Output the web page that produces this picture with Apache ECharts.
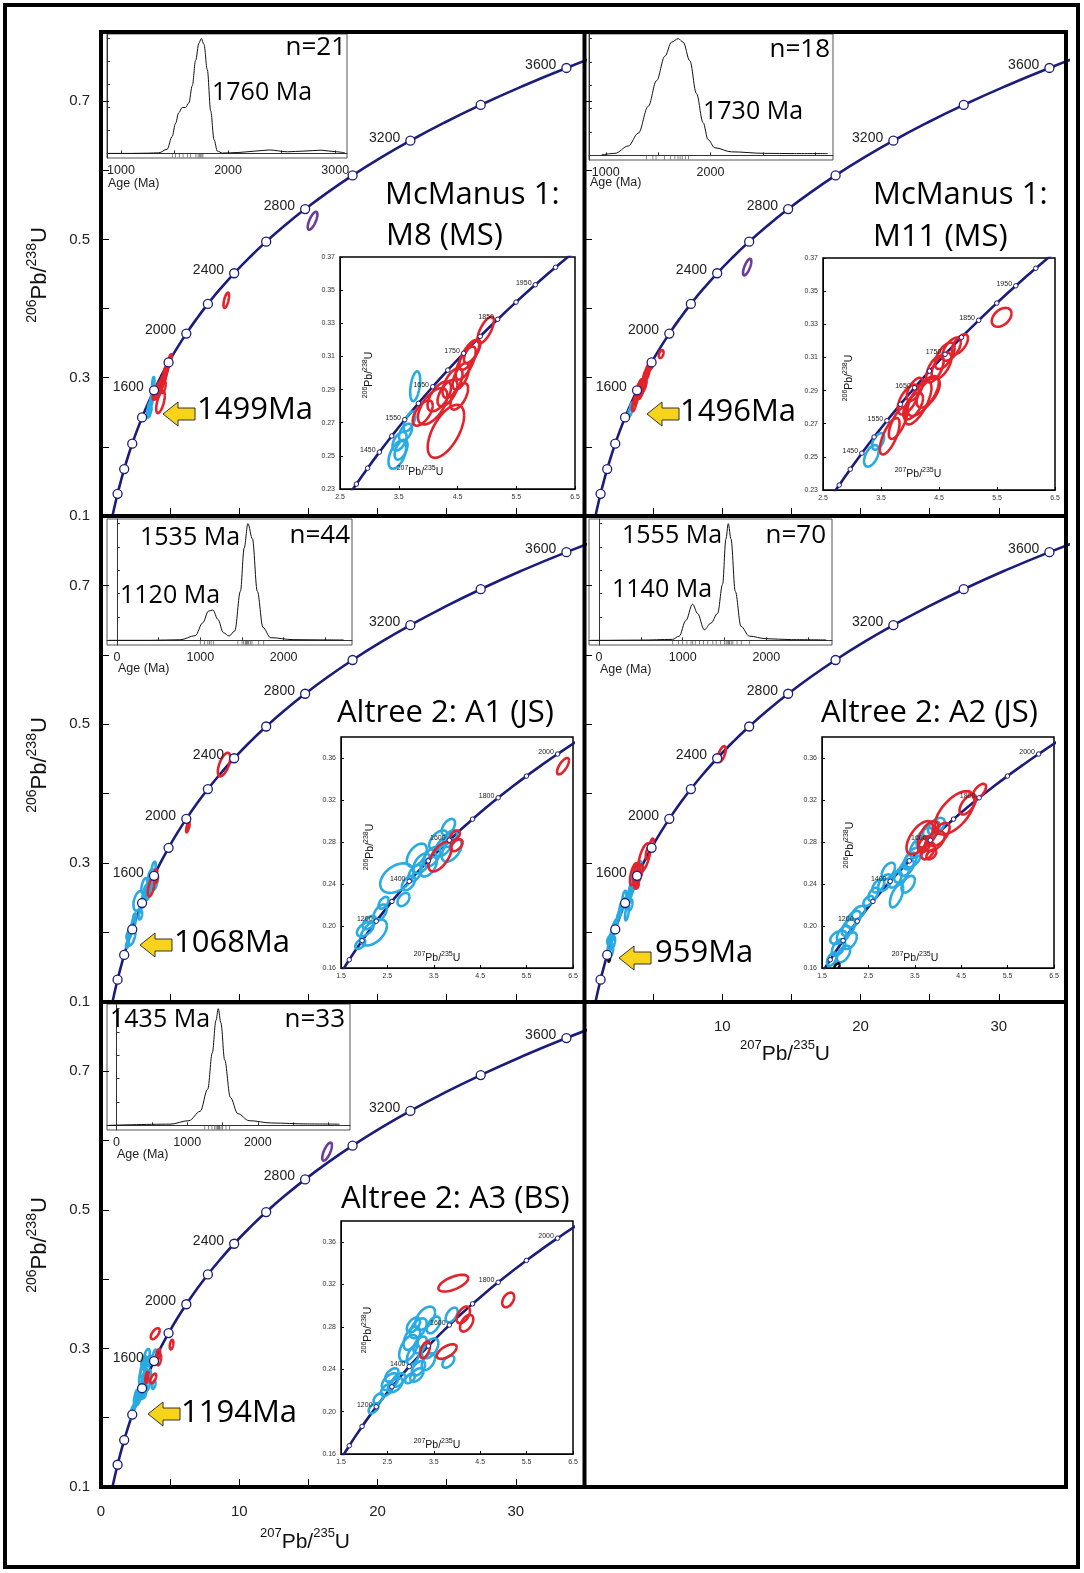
<!DOCTYPE html>
<html><head><meta charset="utf-8">
<script src="https://cdn.jsdelivr.net/npm/echarts@6/dist/echarts.min.js"></script>
<style>html,body{margin:0;padding:0;background:#fff}#c{width:1084px;height:1573px}</style>
</head><body><div id="c"></div><script>
// ---------------- DATA ----------------
const L238 = 1.55125e-4, L235 = 9.8485e-4; // decay constants per Ma
const mainCurveAges = [600,700,800,900,1000,1100,1200,1300,1400,1500,1600,1700,1800,1900,2000,2100,2200,2300,2400,2500,2600,2700,2800,2900,3000,3100,3200,3300,3400,3500,3600,3700];
const mainMarkerAges = [800,1000,1200,1400,1600,1800,2000,2200,2400,2600,2800,3000,3200,3400,3600];
const mainLabelAges = [1600,2000,2400,2800,3200,3600];
const insetCurveAges = [900,950,1000,1050,1100,1150,1200,1250,1300,1350,1400,1450,1500,1550,1600,1650,1700,1750,1800,1850,1900,1950,2000,2050,2100,2150];
const insetMarkersA = [1300,1350,1400,1450,1500,1550,1600,1650,1700,1750,1800,1850,1900,1950,2000];
const insetLabelsA = [1450,1550,1650,1750,1850,1950];
const insetMarkersB = [1000,1100,1200,1300,1400,1500,1600,1700,1800,1900,2000];
const insetLabelsB = [1200,1400,1600,1800,2000];

const mainXLabels = [0,10,20,30];
const mainXTickMarks = [5,10,15,20,25,30];
const mainYLabels = [0.1,0.3,0.5,0.7];
const mainYTickMarks = [0.2,0.3,0.4,0.5,0.6,0.7];
const insetXLabelsA = [2.5,3.5,4.5,5.5,6.5];
const insetYLabelsA = [0.23,0.25,0.27,0.29,0.31,0.33,0.35,0.37];
const insetXLabelsB = [1.5,2.5,3.5,4.5,5.5,6.5];
const insetYLabelsB = [0.16,0.20,0.24,0.28,0.32,0.36];
const insetRangeA = {x:[2.5,6.5], y:[0.23,0.37]};
const insetRangeB = {x:[1.5,6.5], y:[0.16,0.38]};

const titleLines = [['McManus 1:','M8 (MS)'],['McManus 1:','M11 (MS)'],['Altree 2: A1 (JS)'],['Altree 2: A2 (JS)'],['Altree 2: A3 (BS)']];
const sampleN = ['n=21','n=18','n=44','n=70','n=33'];
const youngestAge = ['1499Ma','1496Ma','1068Ma','959Ma','1194Ma'];
const peakLabels = [['1760 Ma'],['1730 Ma'],['1535 Ma','1120 Ma'],['1555 Ma','1140 Ma'],['1435 Ma']];

const pdpRange = [[870,3110],[840,3170],[-120,2820],[-120,2785],[-135,3305]];
const pdpLabelVals = [[1000,2000,3000],[1000,2000],[0,1000,2000],[0,1000,2000],[0,1000,2000]];
const pdpTickVals = [[1000,1500,2000,2500,3000],[1000,1500,2000,2500,3000],[0,500,1000,1500,2000,2500],[0,500,1000,1500,2000,2500],[0,500,1000,1500,2000,2500,3000]];

// probability density curves [age Ma, relative density]
const pdpM8 = [[880,0],[960,0],[1100,0],[1250,0.002],[1353,0.005],[1431,0.036],[1478,0.147],[1509,0.26],[1540,0.355],[1572,0.40],[1603,0.40],[1634,0.44],[1666,0.59],[1697,0.81],[1728,0.96],[1750,1.0],[1775,0.95],[1806,0.73],[1838,0.37],[1869,0.12],[1900,0.02],[1947,0.003],[2100,0.008],[2250,0.02],[2384,0.03],[2556,0.014],[2700,0.02],[2869,0.028],[3000,0.015],[3090,0.005]];
const pdpM11 = [[960,0.003],[1088,0.017],[1215,0.08],[1311,0.19],[1406,0.42],[1485,0.64],[1565,0.85],[1628,0.97],[1692,1.0],[1739,0.97],[1803,0.81],[1866,0.53],[1930,0.28],[1977,0.135],[2041,0.065],[2200,0.03],[2517,0.017],[2800,0.015],[3120,0.015]];
const pdpA1 = [[-100,0],[14,0],[400,0],[758,0.005],[939,0.04],[1029,0.15],[1097,0.25],[1151,0.26],[1210,0.18],[1278,0.065],[1345,0.037],[1413,0.08],[1481,0.42],[1526,0.79],[1571,1.0],[1625,0.87],[1684,0.42],[1752,0.11],[1842,0.023],[2113,0.006],[2400,0.004],[2720,0.003]];
const pdpA2 = [[-100,0],[0,0],[500,0.002],[878,0.008],[958,0.036],[1038,0.17],[1118,0.31],[1178,0.23],[1258,0.09],[1337,0.147],[1417,0.23],[1477,0.48],[1517,0.87],[1545,1.0],[1577,0.87],[1629,0.42],[1697,0.12],[1796,0.036],[1996,0.014],[2300,0.006],[2715,0.003]];
const pdpA3 = [[-110,0],[757,0.01],[1024,0.04],[1184,0.12],[1291,0.31],[1355,0.62],[1408,0.9],[1440,1.0],[1477,0.88],[1531,0.56],[1611,0.24],[1717,0.10],[1877,0.04],[2197,0.02],[2700,0.012],[3157,0.01]];
// individual ages (rug ticks)
const rugM8 = [1480,1510,1545,1580,1620,1650,1700,1720,1735,1745,1755,1765];
const rugM11 = [1390,1450,1480,1560,1620,1660,1690,1710,1730,1760,1790];
const rugA1 = [1000,1050,1090,1110,1130,1160,1450,1500,1520,1540,1550,1560,1570,1580,1600,1620,1700,1760];
const rugA2 = [880,950,1000,1050,1100,1120,1150,1200,1250,1300,1360,1400,1450,1500,1520,1540,1550,1560,1580,1600,1650,1700,1800];
const rugA3 = [1250,1300,1350,1390,1410,1430,1440,1450,1460,1480,1500,1550,1600];

// error ellipses [207Pb/235U, 206Pb/238U, half-extent x, half-extent y, rho, group(0 blue,1 red,2 purple,3 black)]
const ellM8 = [
 [3.475,0.2507,0.15,0.0085,0.5,0],[3.54,0.2537,0.11,0.006,0.5,0],[3.514,0.2588,0.12,0.0056,0.5,0],[3.615,0.2642,0.11,0.0052,0.5,0],
 [3.683,0.2708,0.10,0.006,0.6,0],[3.78,0.292,0.085,0.009,0.4,0],
 [4.303,0.2648,0.31,0.016,0.6,1],[3.908,0.2758,0.17,0.0076,0.6,1],[4.077,0.2799,0.25,0.011,0.6,1],[4.19,0.2859,0.2,0.009,0.6,1],
 [4.33,0.2879,0.17,0.008,0.6,1],[4.415,0.294,0.17,0.009,0.6,1],[4.53,0.2859,0.15,0.008,0.6,1],[4.556,0.298,0.14,0.008,0.6,1],
 [4.64,0.306,0.17,0.01,0.7,1],[4.70,0.311,0.17,0.009,0.7,1],[4.75,0.313,0.14,0.007,0.7,1],[4.98,0.326,0.14,0.008,0.7,1],
 [9.06,0.412,0.2,0.011,0.6,1],[15.3,0.527,0.35,0.013,0.7,2]];
const ellM11 = [
 [3.335,0.2506,0.127,0.0065,0.5,0],[3.45,0.2593,0.104,0.005,0.5,0],
 [3.65,0.2624,0.17,0.011,0.7,1],[3.795,0.2705,0.16,0.0097,0.7,1],[3.968,0.2846,0.18,0.009,0.6,1],[4.054,0.2806,0.17,0.008,0.6,1],
 [4.14,0.2826,0.23,0.013,0.7,1],[4.227,0.2867,0.27,0.012,0.7,1],[4.313,0.2887,0.2,0.009,0.6,1],[4.083,0.2907,0.14,0.007,0.6,1],
 [4.43,0.303,0.15,0.008,0.6,1],[4.543,0.3049,0.17,0.008,0.6,1],[4.6,0.311,0.17,0.008,0.6,1],[4.716,0.315,0.16,0.007,0.6,1],
 [4.86,0.318,0.14,0.006,0.6,1],[5.58,0.3342,0.17,0.0057,0.4,1],[11.8,0.46,0.3,0.012,0.7,2]];
const ellA1 = [
 [1.915,0.1829,0.107,0.0047,0.5,0],[2.023,0.197,0.18,0.0069,0.5,0],[2.109,0.2033,0.143,0.0063,0.5,0],[2.202,0.1939,0.287,0.0125,0.5,0],
 [2.345,0.2127,0.143,0.0078,0.5,0],[2.417,0.2221,0.107,0.0056,0.5,0],[2.703,0.2456,0.358,0.0141,0.4,0],[2.847,0.2252,0.129,0.0063,0.4,0],
 [2.954,0.2409,0.143,0.0069,0.5,0],[3.133,0.2675,0.215,0.011,0.5,0],[3.24,0.2597,0.18,0.0094,0.5,0],[3.384,0.2566,0.18,0.0094,0.5,0],
 [3.097,0.2503,0.143,0.0078,0.5,0],[3.456,0.266,0.18,0.0094,0.5,0],[3.6,0.2816,0.2,0.0094,0.5,0],[3.706,0.2753,0.18,0.009,0.5,0],
 [3.814,0.2942,0.143,0.0078,0.5,0],[3.885,0.2722,0.215,0.011,0.5,0],[3.85,0.2832,0.15,0.008,0.5,0],
 [3.635,0.266,0.25,0.0141,0.6,1],[3.957,0.2863,0.107,0.0047,0.5,1],[3.993,0.2769,0.129,0.0056,0.5,1],[6.285,0.3522,0.129,0.0078,0.7,1],
 [8.9,0.442,0.45,0.017,0.6,1]];
const ellA2 = [
 [1.714,0.1685,0.107,0.0063,0.5,0],[1.857,0.1796,0.143,0.0079,0.5,0],[1.964,0.1923,0.143,0.0079,0.5,0],[1.857,0.1891,0.179,0.0063,0.4,0],
 [2.071,0.1986,0.143,0.0079,0.5,0],[2.179,0.2065,0.157,0.0079,0.5,0],[1.964,0.1733,0.143,0.0079,0.5,0],[2.286,0.2128,0.143,0.0063,0.5,0],
 [2.607,0.2302,0.107,0.0063,0.5,0],[2.714,0.2382,0.129,0.0063,0.5,0],[2.857,0.2413,0.143,0.0079,0.5,0],[3.071,0.2445,0.143,0.0079,0.5,0],
 [3.107,0.2287,0.143,0.011,0.6,0],[3.214,0.2492,0.157,0.0079,0.5,0],[3.321,0.2556,0.157,0.0079,0.5,0],[3.464,0.2651,0.179,0.0095,0.5,0],
 [3.571,0.2746,0.179,0.0095,0.5,0],[2.929,0.2524,0.143,0.0079,0.5,0],[3.357,0.2398,0.143,0.0079,0.5,0],[3.393,0.2619,0.143,0.0079,0.5,0],
 [3.714,0.2841,0.179,0.0095,0.5,0],[3.857,0.292,0.179,0.0079,0.5,0],[3.964,0.2951,0.179,0.0079,0.5,0],[2.107,0.186,0.143,0.0079,0.5,0],
 [2.5,0.2239,0.107,0.0047,0.5,0],
 [3.607,0.2841,0.286,0.0158,0.6,1],[3.786,0.2872,0.214,0.0127,0.6,1],[3.929,0.2809,0.214,0.0095,0.5,1],[3.786,0.2714,0.143,0.0079,0.5,1],
 [4.036,0.2872,0.214,0.011,0.6,1],[4.357,0.3078,0.429,0.0206,0.6,1],[4.643,0.3157,0.179,0.0095,0.6,1],[4.893,0.3284,0.143,0.007,0.6,1],
 [3.714,0.2777,0.143,0.0079,0.5,1],[3.857,0.2682,0.107,0.0047,0.5,1],[9.96,0.457,0.29,0.0115,0.6,1],
 [1.821,0.1613,0.057,0.0032,0.5,3]];
const ellA3 = [
 [2.202,0.2031,0.107,0.0047,0.5,0],[2.309,0.2126,0.107,0.0047,0.5,0],[2.489,0.2205,0.129,0.0057,0.5,0],[2.56,0.2283,0.179,0.0079,0.5,0],
 [2.668,0.2252,0.158,0.0069,0.5,0],[2.596,0.2346,0.143,0.0063,0.5,0],[2.739,0.2299,0.143,0.0063,0.5,0],[2.99,0.2315,0.107,0.0047,0.5,0],
 [2.954,0.2598,0.2,0.0126,0.5,0],[3.026,0.2693,0.179,0.011,0.5,0],[3.062,0.2535,0.143,0.0094,0.5,0],[3.169,0.2787,0.179,0.0094,0.5,0],
 [3.312,0.2882,0.215,0.011,0.5,0],[3.133,0.2346,0.143,0.0063,0.5,0],[3.169,0.2409,0.143,0.0069,0.5,0],[3.384,0.2472,0.143,0.0079,0.5,0],
 [3.42,0.2598,0.179,0.0094,0.5,0],[3.491,0.2819,0.143,0.0079,0.5,0],[3.814,0.2472,0.129,0.0057,0.5,0],[3.885,0.2913,0.129,0.0069,0.5,0],
 [3.205,0.263,0.143,0.0079,0.5,0],[3.062,0.2819,0.143,0.007,0.5,0],
 [3.921,0.3213,0.322,0.0079,0.6,1],[4.136,0.2913,0.143,0.0079,0.5,1],[4.208,0.2835,0.143,0.0079,0.5,1],[3.778,0.2567,0.215,0.0069,0.6,1],
 [3.312,0.2583,0.107,0.0079,0.5,1],[5.103,0.3055,0.129,0.0069,0.4,1],[16.35,0.584,0.35,0.013,0.7,2]];

const ellipseSets = [ellM8, ellM11, ellA1, ellA2, ellA3];
const pdpSets = [pdpM8, pdpM11, pdpA1, pdpA2, pdpA3];
const rugSets = [rugM8, rugM11, rugA1, rugA2, rugA3];
const insetKinds = ['A','A','B','B','B'];

// ---------------- LAYOUT / STYLE ----------------
const FN = 'Liberation Sans, Arial, sans-serif';
const FT = 'Open Sans, Noto Sans, sans-serif';
const NAVY = '#1c1c7a';
const ELL_COLORS = ['#29abe2','#e3232b','#6a3d9a','#111111'];
const LAYOUT = [
 {main:[101,32,484,484], inset:[340,257,235,232], pdp:[107,34,240,124], col:0, xLab:false,
  title:[[385,195],[386,236]], n:[346,48], peaks:[[212,93]], arrow:[163,414], age:[197,410], ageMa:[108,184],
  ix:[420,471], iy:[368,375]},
 {main:[584,32,484,484], inset:[823,258,232,232], pdp:[589,34,244,126], col:1, xLab:false,
  title:[[873,195],[873,237]], n:[830,50], peaks:[[703,112]], arrow:[647,414], age:[680,412], ageMa:[590,183],
  ix:[918,473], iy:[848,378]},
 {main:[101,516,484,486], inset:[341,737,232,231], pdp:[107,519,245,126], col:0, xLab:false,
  title:[[337,713]], n:[350,536], peaks:[[140,538],[120,596]], arrow:[140,945], age:[174,943], ageMa:[118,669],
  ix:[437,957], iy:[369,847]},
 {main:[584,516,484,486], inset:[822,737,232,231], pdp:[589,519,243,126], col:1, xLab:true,
  title:[[821,713]], n:[826,536], peaks:[[622,536],[612,590]], arrow:[619,958], age:[655,953], ageMa:[600,670],
  ix:[915,957], iy:[849,845]},
 {main:[101,1002,484,485], inset:[341,1221,232,233], pdp:[107,1004,243,126], col:0, xLab:true,
  title:[[341,1199]], n:[345,1020], peaks:[[110,1020]], arrow:[148,1414], age:[181,1413], ageMa:[117,1155],
  ix:[437,1444], iy:[367,1330]}
];

function cc(t){ return [Math.exp(L235*t)-1, Math.exp(L238*t)-1]; }
function ellRender(lw){
  return function(params, api){
    const cx=api.value(0), cy=api.value(1), sx=api.value(2), sy=api.value(3), r=api.value(4), c=api.value(5);
    const q=Math.sqrt(1-r*r), pts=[];
    for(let i=0;i<=48;i++){
      const t=i/48*2*Math.PI;
      pts.push(api.coord([cx+sx*Math.cos(t), cy+sy*(r*Math.cos(t)+q*Math.sin(t))]));
    }
    return {type:'polyline', shape:{points:pts}, style:{stroke:ELL_COLORS[c], lineWidth:lw, fill:null}};
  };
}
function isoText(x,y,main,sup,rot,align){
  return {type:'text', x:x, y:y, rotation:rot||0, z:120, silent:true,
    style:{text:'{s|'+sup[0]+'}{m|Pb/}{s|'+sup[1]+'}{m|U}', align:align||'center', verticalAlign:'middle',
      rich:{m:{fontSize:main, fontFamily:FN, fill:'#111', verticalAlign:'bottom', lineHeight:main*1.2},
            s:{fontSize:Math.round(main*0.62), fontFamily:FN, fill:'#111', verticalAlign:'top'}}}};
}

const option = {animation:false, backgroundColor:'#fff', textStyle:{fontFamily:FN}, grid:[], xAxis:[], yAxis:[], series:[], graphic:[]};
function addGrid(g, x, y){ const k=option.grid.length; option.grid.push(g); x.gridIndex=k; y.gridIndex=k; option.xAxis.push(x); option.yAxis.push(y); return k; }

LAYOUT.forEach((Lo, i) => {
  // ---- main concordia panel
  const gm = addGrid({left:Lo.main[0], top:Lo.main[1], width:Lo.main[2], height:Lo.main[3], show:false},
    {type:'value', min:0, max:35, axisLine:{show:false}, splitLine:{show:false},
     axisTick:{show:true, inside:true, length:8, lineStyle:{color:'#000', width:1}, customValues:mainXTickMarks},
     axisLabel:{show:Lo.xLab, customValues: i===3 ? mainXLabels.filter(v=>v>0) : mainXLabels, formatter:v=>String(v), margin:17, fontSize:15, color:'#222', fontFamily:FN}},
    {type:'value', min:0.1, max:0.8, axisLine:{show:false}, splitLine:{show:false},
     axisTick:{show:true, inside:true, length:8, lineStyle:{color:'#000', width:1}, customValues:mainYTickMarks},
     axisLabel:{show:Lo.col===0, customValues:mainYLabels, formatter:v=>(+v).toFixed(1), margin:11, fontSize:15, color:'#222', fontFamily:FN}});
  option.series.push({type:'line', xAxisIndex:gm, yAxisIndex:gm, data:mainCurveAges.map(cc), smooth:true, showSymbol:false, clip:true, silent:true,
    lineStyle:{color:NAVY, width:2.6}, z:2});
  option.series.push({type:'custom', xAxisIndex:gm, yAxisIndex:gm, data:ellipseSets[i], renderItem:ellRender(2.6), encode:{x:0,y:1}, clip:true, silent:true, z:3});
  option.series.push({type:'scatter', xAxisIndex:gm, yAxisIndex:gm, silent:true, z:4,
    data:mainMarkerAges.map(t=>({value:[...cc(t),t], label:{show:mainLabelAges.includes(t)}})),
    symbol:'circle', symbolSize:9, itemStyle:{color:'#fff', borderColor:NAVY, borderWidth:1.3, opacity:1},
    label:{position:'left', distance:5, offset:[0,-3], formatter:p=>p.value[2], fontSize:14, color:'#222', fontFamily:FN}});

  // ---- zoomed concordia inset
  const kind = insetKinds[i];
  const R = kind==='A' ? insetRangeA : insetRangeB;
  const gi = addGrid({left:Lo.inset[0], top:Lo.inset[1], width:Lo.inset[2], height:Lo.inset[3], show:true, backgroundColor:'#fff', borderColor:'#000', borderWidth:1.5},
    {type:'value', min:R.x[0], max:R.x[1], splitLine:{show:false}, axisLine:{show:true, lineStyle:{color:'#000', width:1}},
     axisTick:{show:true, inside:true, length:3, lineStyle:{color:'#000'}, customValues: kind==='A'?insetXLabelsA:insetXLabelsB},
     axisLabel:{customValues: kind==='A'?insetXLabelsA:insetXLabelsB, formatter:v=>(+v).toFixed(1), fontSize:7, color:'#333', margin:5, fontFamily:FN}},
    {type:'value', min:R.y[0], max:R.y[1], splitLine:{show:false}, axisLine:{show:true, lineStyle:{color:'#000', width:1}},
     axisTick:{show:true, inside:true, length:3, lineStyle:{color:'#000'}, customValues: kind==='A'?insetYLabelsA:insetYLabelsB},
     axisLabel:{customValues: kind==='A'?insetYLabelsA:insetYLabelsB, formatter:v=>(+v).toFixed(2), fontSize:7, color:'#333', margin:5, fontFamily:FN}});
  option.series.push({type:'line', xAxisIndex:gi, yAxisIndex:gi, data:insetCurveAges.map(cc), smooth:true, showSymbol:false, clip:true, silent:true,
    lineStyle:{color:NAVY, width:2.6}, z:5});
  option.series.push({type:'custom', xAxisIndex:gi, yAxisIndex:gi, data:ellipseSets[i], renderItem:ellRender(2.6), encode:{x:0,y:1}, clip:true, silent:true, z:6});
  const mk = kind==='A'?insetMarkersA:insetMarkersB, lb = kind==='A'?insetLabelsA:insetLabelsB;
  option.series.push({type:'scatter', xAxisIndex:gi, yAxisIndex:gi, silent:true, z:7, clip:true,
    data:mk.map(t=>({value:[...cc(t),t], label:{show:lb.includes(t)}})),
    symbol:'circle', symbolSize:4.5, itemStyle:{color:'#fff', borderColor:NAVY, borderWidth:1, opacity:1},
    label:{position:'left', distance:1, offset:[0,-2], formatter:p=>p.value[2], fontSize:7, color:'#222', fontFamily:FN}});

  // ---- probability density inset
  const gp = addGrid({left:Lo.pdp[0], top:Lo.pdp[1], width:Lo.pdp[2], height:Lo.pdp[3], show:true, backgroundColor:'#fff', borderColor:'#555', borderWidth:1},
    {type:'value', min:pdpRange[i][0], max:pdpRange[i][1], splitLine:{show:false}, axisLine:{show:true, lineStyle:{color:'#333', width:1}},
     axisTick:{show:true, inside:true, length:3, lineStyle:{color:'#333'}, customValues:pdpTickVals[i]},
     axisLabel:{customValues:pdpLabelVals[i], formatter:v=>String(v), fontSize:12.5, color:'#222', margin:6, fontFamily:FN}},
    {type:'value', min:-0.04, max:1.04, splitLine:{show:false}, axisLine:{show:true, lineStyle:{color:'#333', width:1}},
     axisTick:{show:true, inside:true, length:3, lineStyle:{color:'#333'}, customValues:[0,0.2,0.4,0.6,0.8,1.0]},
     axisLabel:{show:false}});
  option.series.push({type:'line', xAxisIndex:gp, yAxisIndex:gp, data:pdpSets[i], smooth:0.35, smoothMonotone:'x', showSymbol:false, clip:true, silent:true,
    lineStyle:{color:'#111', width:1}, z:5});
  option.series.push({type:'scatter', xAxisIndex:gp, yAxisIndex:gp, data:rugSets[i].map(a=>[a,-0.018]), symbol:'rect', symbolSize:[0.8,4],
    itemStyle:{color:'#444'}, silent:true, z:5});

  // ---- texts
  titleLines[i].forEach((t,k)=>option.graphic.push({type:'text', x:Lo.title[k][0], y:Lo.title[k][1], z:120, silent:true,
    style:{text:t, fontSize:31, fontFamily:FT, fill:'#000', align:'left', verticalAlign:'middle'}}));
  option.graphic.push({type:'text', x:Lo.n[0], y:Lo.n[1], z:120, silent:true,
    style:{text:sampleN[i], fontSize:26, fontFamily:FT, fill:'#000', align:'right', verticalAlign:'middle'}});
  peakLabels[i].forEach((t,k)=>option.graphic.push({type:'text', x:Lo.peaks[k][0], y:Lo.peaks[k][1], z:120, silent:true,
    style:{text:t, fontSize:25, fontFamily:FT, fill:'#000', align:'left', verticalAlign:'middle'}}));
  option.graphic.push({type:'text', x:Lo.age[0], y:Lo.age[1], z:120, silent:true,
    style:{text:youngestAge[i], fontSize:31, fontFamily:FT, fill:'#000', align:'left', verticalAlign:'middle'}});
  option.graphic.push({type:'text', x:Lo.ageMa[0], y:Lo.ageMa[1], z:120, silent:true,
    style:{text:'Age (Ma)', fontSize:12.5, fontFamily:FN, fill:'#222', align:'left', verticalAlign:'middle'}});
  const tx=Lo.arrow[0], ty=Lo.arrow[1];
  option.graphic.push({type:'polygon', z:110, silent:true,
    shape:{points:[[tx,ty],[tx+15,ty-12],[tx+15,ty-6],[tx+32,ty-6],[tx+32,ty+6],[tx+15,ty+6],[tx+15,ty+12]]},
    style:{fill:'#f7d31b', stroke:'#333', lineWidth:1}});
  option.graphic.push(isoText(Lo.ix[0], Lo.ix[1], 10.5, ['207','235'], 0));
  option.graphic.push(isoText(Lo.iy[0], Lo.iy[1], 10.5, ['206','238'], Math.PI/2));
});

// axis names
[[38,275],[38,765],[38,1245]].forEach(p=>option.graphic.push(isoText(p[0],p[1],22,['206','238'],Math.PI/2)));
[[305,1540],[785,1052]].forEach(p=>option.graphic.push(isoText(p[0],p[1],21,['207','235'],0)));

// frames
option.graphic.push({type:'rect', shape:{x:5,y:5,width:1073,height:1562}, style:{fill:null, stroke:'#000', lineWidth:4}, z:130, silent:true});
[[101,32,101,1487],[584.5,32,584.5,1487],[1066,32,1066,1487],[101,32,1066,32],[101,516,1066,516],[101,1002,1066,1002],[101,1487,1066,1487]]
 .forEach(s=>option.graphic.push({type:'line', shape:{x1:s[0],y1:s[1],x2:s[2],y2:s[3]}, style:{stroke:'#000', lineWidth:4, lineCap:'square'}, z:130, silent:true}));

const chart = echarts.init(document.getElementById('c'), null, {renderer:'canvas', width:1084, height:1573});
chart.setOption(option);
</script></body></html>
